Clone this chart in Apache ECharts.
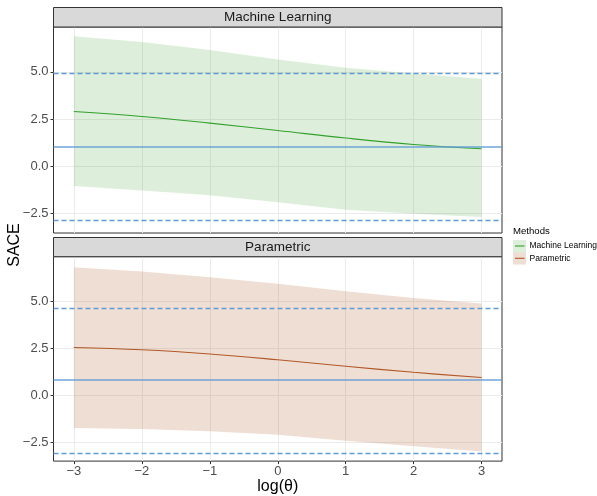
<!DOCTYPE html>
<html>
<head>
<meta charset="utf-8">
<title>SACE by log(θ)</title>
<script src="https://cdn.jsdelivr.net/npm/echarts@6/dist/echarts.min.js"></script>
<style>
  html, body { margin: 0; padding: 0; background: #ffffff; }
  #chart { width: 597px; height: 496px; }
</style>
</head>
<body>
<div id="chart"></div>
<script>
// Sensitivity grid on log(theta)
const logTheta = [-3, -2, -1, 0, 1, 2, 3];

// Machine Learning estimates with band limits
const mlEstimate = [2.90, 2.64, 2.29, 1.90, 1.50, 1.16, 0.93];
const mlLower    = [-1.04, -1.27, -1.53, -1.89, -2.29, -2.50, -2.68];
const mlUpper    = [6.88, 6.58, 6.16, 5.65, 5.21, 4.91, 4.63];

// Parametric estimates with band limits
const parEstimate = [2.53, 2.41, 2.19, 1.88, 1.53, 1.21, 0.93];
const parLower    = [-1.76, -1.81, -1.93, -2.11, -2.44, -2.73, -3.01];
const parUpper    = [6.81, 6.58, 6.28, 5.93, 5.53, 5.17, 4.88];

// Reference lines: point estimate and interval bounds, per method
const mlReference  = { estimate: 1.02, lower: -2.87, upper: 4.93 };
const parReference = { estimate: 0.79, lower: -3.08, upper: 4.65 };

// Tick labels
const xTicks = [-3, -2, -1, 0, 1, 2, 3];
const yTicks = [-2.5, 0, 2.5, 5];

const panelNames = ['Machine Learning', 'Parametric'];
const methodNames = ['Machine Learning', 'Parametric'];

const lineColors = ['#33a02c', '#b15928'];
const bandColors = ['rgba(51,160,44,0.17)', 'rgba(177,89,40,0.2)'];
const refColor = '#5f9bd6';

const PANEL_LEFT = 53.5, PANEL_W = 448.5;
const panels = [
  { top: 27, height: 206, stripTop: 7.5 },
  { top: 256.7, height: 206.3, stripTop: 237.5 }
];
const Y_MIN = -3.52, Y_MAX = 7.37;

const minus = s => String(s).replace('-', '\u2212');

const chart = echarts.init(document.getElementById('chart'), null, { renderer: 'canvas' });

const grids = panels.map(p => ({
  left: PANEL_LEFT, top: p.top, width: PANEL_W, height: p.height,
  show: true, borderColor: '#333333', borderWidth: 1, backgroundColor: 'transparent'
}));

const xAxes = panels.map((p, i) => ({
  type: 'value', gridIndex: i, min: -3.3, max: 3.3, position: 'bottom',
  axisLine: { show: false, onZero: false },
  axisTick: { show: i === 1, length: 3, lineStyle: { color: '#333333' }, customValues: xTicks },
  axisLabel: {
    show: i === 1, customValues: xTicks, margin: 4,
    color: '#4d4d4d', fontSize: 13, fontFamily: 'Liberation Sans, Arial, sans-serif',
    formatter: v => minus(v)
  },
  splitLine: { show: true, lineStyle: { color: '#ebebeb', width: 1 } },
  name: i === 1 ? 'log(θ)' : '', nameLocation: 'middle', nameGap: 17,
  nameTextStyle: { color: '#000000', fontSize: 16, fontFamily: 'Liberation Sans, Arial, sans-serif' }
}));

const yAxes = panels.map((p, i) => ({
  type: 'value', gridIndex: i, min: Y_MIN, max: Y_MAX, position: 'left',
  axisLine: { show: false, onZero: false },
  axisTick: { show: true, length: 3, lineStyle: { color: '#333333' }, customValues: yTicks },
  axisLabel: {
    customValues: yTicks, margin: 5,
    color: '#4d4d4d', fontSize: 13, fontFamily: 'Liberation Sans, Arial, sans-serif',
    formatter: v => minus(v.toFixed(1))
  },
  splitLine: { show: true, lineStyle: { color: '#ebebeb', width: 1 } }
}));

function bandSeries(idx, lower, upper) {
  const data = logTheta.map((x, k) => [x, lower[k], upper[k]]);
  return {
    type: 'custom', xAxisIndex: idx, yAxisIndex: idx, z: 1,
    data: data, silent: true,
    renderItem: function (params, api) {
      if (params.dataIndex !== 0) return null;
      const top = data.map(d => api.coord([d[0], d[2]]));
      const bottom = data.slice().reverse().map(d => api.coord([d[0], d[1]]));
      return {
        type: 'polygon',
        shape: { points: top.concat(bottom) },
        style: { fill: bandColors[idx] }
      };
    }
  };
}

function estimateSeries(idx, values, ref) {
  return {
    type: 'line', xAxisIndex: idx, yAxisIndex: idx, z: 3,
    name: methodNames[idx],
    data: logTheta.map((x, k) => [x, values[k]]),
    smooth: 0.4, symbol: 'none',
    lineStyle: { color: lineColors[idx], width: 1.1 },
    markLine: {
      silent: true, symbol: 'none', animation: false,
      label: { show: false },
      data: [
        { yAxis: ref.estimate, lineStyle: { color: refColor, width: 1.6, type: 'solid', opacity: 0.9 } },
        { yAxis: ref.upper, lineStyle: { color: refColor, width: 1.3, type: [5, 3], opacity: 1 } },
        { yAxis: ref.lower, lineStyle: { color: refColor, width: 1.3, type: [5, 3], opacity: 1 } }
      ]
    }
  };
}

// Facet strips, shared y title and legend
const graphics = [];
panels.forEach((p, i) => {
  graphics.push({
    type: 'rect', z: 10,
    shape: { x: PANEL_LEFT, y: p.stripTop, width: PANEL_W, height: p.top - p.stripTop },
    style: { fill: '#d9d9d9', stroke: '#333333', lineWidth: 1 }
  });
  graphics.push({
    type: 'text', z: 11,
    x: PANEL_LEFT + PANEL_W / 2, y: (p.stripTop + p.top) / 2 + 0.5,
    style: {
      text: panelNames[i], fill: '#1a1a1a', fontSize: 13.5,
      fontFamily: 'Liberation Sans, Arial, sans-serif',
      align: 'center', verticalAlign: 'middle'
    }
  });
});
graphics.push({
  type: 'text', x: 15, y: 245, rotation: Math.PI / 2,
  style: {
    text: 'SACE', fill: '#000000', fontSize: 16,
    fontFamily: 'Liberation Sans, Arial, sans-serif',
    align: 'center', verticalAlign: 'middle'
  }
});
graphics.push({
  type: 'text', x: 513, y: 231.5,
  style: {
    text: 'Methods', fill: '#000000', fontSize: 9.6,
    fontFamily: 'Liberation Sans, Arial, sans-serif', verticalAlign: 'middle'
  }
});
methodNames.forEach((name, i) => {
  const cy = 246 + i * 12.3;
  graphics.push({
    type: 'rect', shape: { x: 513, y: cy - 6, width: 13, height: 12.3 },
    style: { fill: bandColors[i] }
  });
  graphics.push({
    type: 'line', shape: { x1: 515, y1: cy, x2: 524.5, y2: cy },
    style: { stroke: lineColors[i], lineWidth: 1.1 }
  });
  graphics.push({
    type: 'text', x: 529.5, y: cy,
    style: {
      text: name, fill: '#000000', fontSize: 8.5,
      fontFamily: 'Liberation Sans, Arial, sans-serif', verticalAlign: 'middle'
    }
  });
});

chart.setOption({
  animation: false,
  backgroundColor: '#ffffff',
  grid: grids,
  xAxis: xAxes,
  yAxis: yAxes,
  series: [
    bandSeries(0, mlLower, mlUpper),
    estimateSeries(0, mlEstimate, mlReference),
    bandSeries(1, parLower, parUpper),
    estimateSeries(1, parEstimate, parReference)
  ],
  graphic: graphics
});
</script>
</body>
</html>
